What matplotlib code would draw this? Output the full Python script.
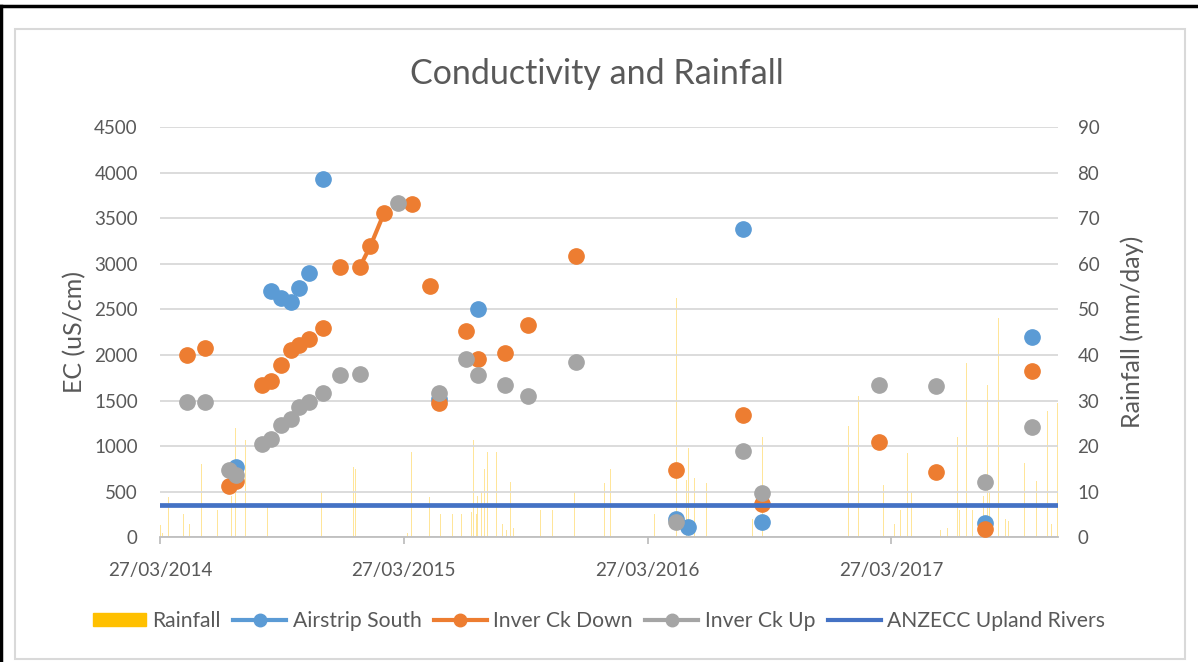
import matplotlib
matplotlib.use("Agg")
import matplotlib.pyplot as plt
import matplotlib.dates as mdates
from matplotlib.lines import Line2D
from matplotlib.patches import Patch, Rectangle
import numpy as np
import pandas as pd

plt.rcParams['font.family'] = ['Lato', 'DejaVu Sans']

# Conductivity samples (uS/cm)
airstrip_dates = ['2014-07-19', '2014-09-09', '2014-09-24', '2014-10-09', '2014-10-22', '2014-11-05',
                  '2014-11-26', '2015-05-19', '2015-07-16', '2016-05-09', '2016-05-26', '2016-08-17',
                  '2016-09-14', '2017-08-15', '2017-10-24']
airstrip_ec = [770, 2700, 2620, 2585, 2730, 2895, 3930, 1520, 2505, 200, 115, 3380, 170, 155, 2200]

down_dates = ['2014-05-06', '2014-06-03', '2014-07-09', '2014-07-19', '2014-08-27', '2014-09-09',
              '2014-09-24', '2014-10-09', '2014-10-22', '2014-11-05', '2014-11-26', '2014-12-22',
              '2015-01-20', '2015-02-05', '2015-02-26', '2015-04-09', '2015-05-06', '2015-05-19',
              '2015-06-29', '2015-07-16', '2015-08-26', '2015-09-30', '2015-12-10', '2016-05-09',
              '2016-08-17', '2016-09-14', '2017-03-08', '2017-06-02', '2017-08-15', '2017-10-24']
down_ec = [2000, 2080, 565, 620, 1670, 1715, 1890, 2055, 2110, 2175, 2290, 2960,
           2960, 3190, 3560, 3650, 2760, 1470, 2260, 1960, 2020, 2330, 3090, 740,
           1340, 360, 1040, 720, 90, 1820]
# consecutive readings joined by a line
down_run = slice(12, 15)

up_dates = ['2014-05-06', '2014-06-03', '2014-07-09', '2014-07-19', '2014-08-27', '2014-09-09',
            '2014-09-24', '2014-10-09', '2014-10-22', '2014-11-05', '2014-11-26', '2014-12-22',
            '2015-01-20', '2015-03-19', '2015-05-19', '2015-06-29', '2015-07-16', '2015-08-26',
            '2015-09-30', '2015-12-10', '2016-05-09', '2016-08-17', '2016-09-14', '2017-03-08',
            '2017-06-02', '2017-08-15', '2017-10-24']
up_ec = [1480, 1480, 740, 685, 1020, 1080, 1230, 1295, 1430, 1480, 1580, 1780,
         1790, 3670, 1580, 1960, 1780, 1665, 1550, 1920, 165, 950, 490, 1665,
         1660, 610, 1210]

anzecc_limit = 350

# Daily rainfall (mm/day)
rain_dates = ['2014-03-28', '2014-03-31', '2014-04-09', '2014-04-29', '2014-05-01', '2014-05-10',
              '2014-05-27', '2014-05-28', '2014-06-02', '2014-06-13', '2014-06-21', '2014-06-23',
              '2014-06-28', '2014-07-01', '2014-07-08', '2014-07-12', '2014-07-18', '2014-07-25',
              '2014-08-02', '2014-08-18', '2014-09-02', '2014-09-04', '2014-09-09', '2014-09-14',
              '2014-10-14', '2014-10-29', '2014-11-16', '2014-11-24', '2014-12-11', '2014-12-29',
              '2015-01-07', '2015-01-11', '2015-01-14', '2015-03-11', '2015-04-02', '2015-04-06',
              '2015-04-08', '2015-04-18', '2015-04-25', '2015-04-30', '2015-05-05', '2015-05-10',
              '2015-05-12', '2015-05-19', '2015-05-21', '2015-06-03', '2015-06-08', '2015-06-22',
              '2015-07-07', '2015-07-10', '2015-07-14', '2015-07-16', '2015-07-22', '2015-07-26',
              '2015-07-31', '2015-08-05', '2015-08-13', '2015-08-22', '2015-08-28', '2015-09-03',
              '2015-09-08', '2015-09-22', '2015-10-18', '2015-11-05', '2015-12-08', '2015-12-21',
              '2016-01-22', '2016-01-31', '2016-02-04', '2016-03-11', '2016-03-18', '2016-04-06',
              '2016-05-09', '2016-05-24', '2016-05-27', '2016-06-05', '2016-06-07', '2016-06-23',
              '2016-06-24', '2016-07-06', '2016-07-12', '2016-07-15', '2016-07-25', '2016-07-27',
              '2016-08-02', '2016-08-20', '2016-08-23', '2016-08-31', '2016-09-10', '2016-09-15',
              '2016-09-29', '2016-10-01', '2016-10-05', '2016-10-10', '2016-10-17', '2016-10-22',
              '2016-11-01', '2016-11-13', '2016-11-21', '2016-12-06', '2016-12-09', '2016-12-21',
              '2016-12-28', '2017-01-15', '2017-01-22', '2017-02-06', '2017-03-15', '2017-04-01',
              '2017-04-10', '2017-04-20', '2017-04-26', '2017-05-03', '2017-05-18', '2017-05-24',
              '2017-05-30', '2017-06-09', '2017-06-19', '2017-06-29', '2017-07-04', '2017-07-07',
              '2017-07-11', '2017-07-14', '2017-07-18', '2017-07-20', '2017-07-27', '2017-08-01',
              '2017-08-04', '2017-08-07', '2017-08-12', '2017-08-16', '2017-08-18', '2017-08-21',
              '2017-09-04', '2017-09-06', '2017-09-14', '2017-09-19', '2017-09-27', '2017-10-13',
              '2017-10-31', '2017-11-16', '2017-11-22', '2017-11-26', '2017-12-01']
rain_mm = [2.7, 1, 8.8, 16.4, 5, 3,
           26.3, 16, 10, 11.5, 6, 26,
           27.7, 5, 36.5, 9, 24, 9,
           21.4, 3, 6, 7, 6, 2,
           1, 3, 4, 10, 4, 1,
           8, 15.5, 15, 1, 1, 12,
           18.8, 16, 16.5, 3, 8.8, 9.5,
           4, 23.5, 5, 4, 5, 5,
           5.5, 21.3, 5, 9, 10, 15,
           18.6, 3, 18.6, 3, 1.5, 12.2,
           2, 1, 6, 6, 10, 1.5,
           12, 15, 12, 18.5, 4.5, 5,
           52.4, 12.5, 19.6, 13, 11, 12,
           32.5, 29.5, 31, 9, 32.5, 24,
           3, 13, 3, 4, 20.5, 22,
           61.3, 26, 35, 4, 18.5, 6,
           3, 20.3, 1, 5, 14, 1,
           80, 6, 24.5, 31, 11.5, 3,
           6, 18.5, 10, 1.5, 3, 14.3,
           18, 1.5, 2, 4, 21.9, 6,
           31.2, 12, 38.3, 22, 6, 29.4,
           7, 72.3, 9, 26.6, 33.3, 10,
           48.2, 8, 4, 3.5, 1.5, 16.4,
           12.3, 27.8, 3, 18.5, 29.5]

tick_dates = ['2014-03-27', '2015-03-27', '2016-03-27', '2017-03-27']
x_start, x_end = '2014-03-27', '2017-12-02'

c_rain = '#FFC000'
c_air = '#5B9BD5'
c_down = '#ED7D31'
c_up = '#A5A5A5'
c_anz = '#4472C4'
c_text = '#595959'
c_grid = '#D9D9D9'

fig = plt.figure(figsize=(11.98, 6.62), dpi=100)
ax = fig.add_axes([0.1336, 0.1884, 0.7496, 0.6198])
ax2 = ax.twinx()
ax.set_zorder(ax2.get_zorder() + 1)
ax.patch.set_visible(False)

# rainfall on the secondary axis, behind everything
ax2.bar(pd.to_datetime(rain_dates), rain_mm, width=0.7, color=c_rain, linewidth=0, alpha=0.4)
ax2.set_ylim(0, 90)
ax2.set_yticks(np.arange(0, 91, 10))

ms = 11
ax.plot(pd.to_datetime(airstrip_dates), airstrip_ec, 'o', color=c_air, ms=ms, zorder=3)
ax.plot(pd.to_datetime(down_dates), down_ec, 'o', color=c_down, ms=ms, zorder=4)
ax.plot(pd.to_datetime(down_dates[down_run]), down_ec[down_run], '-', color=c_down, lw=3, zorder=4)
ax.plot(pd.to_datetime(up_dates), up_ec, 'o', color=c_up, ms=ms, zorder=5)
ax.axhline(anzecc_limit, color=c_anz, lw=3.4, zorder=6)

ax.set_xlim(pd.Timestamp(x_start), pd.Timestamp(x_end))
ax.set_ylim(0, 4500)
ax.set_yticks(np.arange(0, 4501, 500))
ax.set_xticks(pd.to_datetime(tick_dates))
ax.xaxis.set_major_formatter(mdates.DateFormatter('%d/%m/%Y'))
ax.grid(axis='y', color=c_grid, lw=1.3)
ax.set_axisbelow(True)

for a in (ax, ax2):
    for s in a.spines.values():
        s.set_visible(False)
ax.spines['bottom'].set_visible(True)
ax.spines['bottom'].set_color('#BFBFBF')
ax.spines['bottom'].set_linewidth(1.3)

ax.tick_params(axis='y', length=0, pad=16, labelsize=13.5, labelcolor=c_text)
ax2.tick_params(axis='y', length=0, pad=14, labelsize=13.5, labelcolor=c_text)
ax.tick_params(axis='x', length=5, width=1.3, color='#BFBFBF', pad=13, labelsize=13.6, labelcolor=c_text)

ax.set_ylabel('EC (uS/cm)', fontsize=18, color=c_text)
ax.yaxis.set_label_coords(-0.082, 0.5)
ax2.set_ylabel('Rainfall (mm/day)', fontsize=18, color=c_text, rotation=90)
ax2.yaxis.set_label_coords(1.069, 0.5)
fig.text(0.4985, 0.888, 'Conductivity and Rainfall', ha='center', va='center', fontsize=24.5, color=c_text)

handles = [Patch(color=c_rain),
           Line2D([], [], color=c_air, lw=3, marker='o', ms=9),
           Line2D([], [], color=c_down, lw=3, marker='o', ms=9),
           Line2D([], [], color=c_up, lw=3, marker='o', ms=9),
           Line2D([], [], color=c_anz, lw=3)]
labels = ['Rainfall', 'Airstrip South', 'Inver Ck Down', 'Inver Ck Up', 'ANZECC Upland Rivers']
leg = fig.legend(handles, labels, loc='center', bbox_to_anchor=(0.5, 0.062), ncol=5, frameon=False,
                 fontsize=15.2, handlelength=2.5, handleheight=0.6, handletextpad=0.3, columnspacing=0.6)
for t in leg.get_texts():
    t.set_color(c_text)

# chart frame
fig.patches.append(Rectangle((15 / 1198, 3 / 662), 1170 / 1198, 630 / 662, transform=fig.transFigure,
                             fill=False, edgecolor='#D9D9D9', lw=1.5))
fig.lines.append(Line2D([0, 1], [1 - 6 / 662, 1 - 6 / 662], transform=fig.transFigure, color='black', lw=2.5))
fig.lines.append(Line2D([1 / 1198, 1 / 1198], [0, 1 - 6 / 662], transform=fig.transFigure, color='black', lw=2.5))

fig.savefig('out.png', dpi=100)
